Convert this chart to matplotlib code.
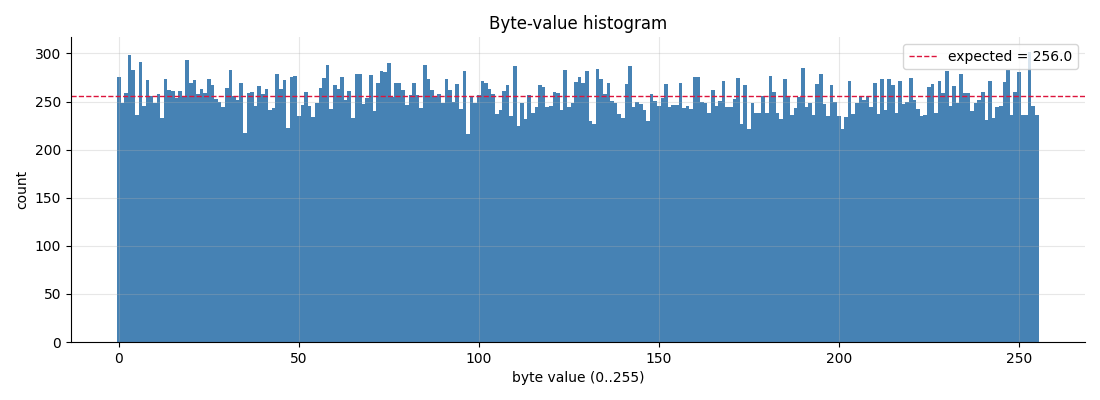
import numpy as np
import matplotlib
matplotlib.use("Agg")
import matplotlib.pyplot as plt

# counts per byte value
counts = [
    275, 249, 259, 298, 283, 236, 291, 245, 272, 256, 248, 258, 233, 273, 262, 261,
    254, 261, 256, 293, 269, 272, 258, 263, 259, 273, 267, 253, 250, 244, 264, 283,
    256, 252, 269, 217, 259, 260, 245, 266, 258, 263, 241, 243, 279, 263, 272, 222,
    275, 277, 235, 246, 260, 245, 234, 248, 264, 274, 288, 242, 267, 263, 275, 252,
    261, 233, 279, 279, 247, 254, 278, 240, 269, 282, 281, 290, 255, 269, 269, 262,
    246, 257, 269, 257, 243, 288, 273, 262, 255, 258, 249, 273, 262, 250, 268, 242,
    282, 216, 255, 249, 257, 271, 269, 263, 258, 237, 241, 261, 267, 235, 287, 225,
    248, 232, 257, 238, 244, 267, 265, 244, 245, 260, 259, 241, 283, 244, 249, 270,
    276, 269, 282, 230, 227, 284, 273, 258, 269, 251, 249, 237, 233, 268, 287, 244,
    250, 247, 241, 230, 258, 251, 245, 254, 268, 244, 246, 246, 269, 243, 245, 242,
    275, 275, 250, 248, 238, 262, 245, 251, 271, 244, 244, 253, 274, 227, 267, 221,
    248, 238, 238, 256, 238, 277, 260, 238, 232, 273, 255, 236, 243, 255, 285, 244,
    248, 236, 268, 279, 247, 235, 267, 250, 235, 221, 234, 271, 237, 248, 256, 252,
    256, 244, 269, 237, 273, 241, 273, 267, 238, 271, 247, 250, 274, 252, 242, 235,
    236, 265, 268, 238, 271, 259, 282, 245, 266, 248, 279, 259, 259, 240, 249, 252,
    260, 231, 271, 233, 244, 245, 270, 283, 236, 260, 281, 236, 236, 302, 245, 236,
]
byte_values = np.arange(256)
expected = 256.0

fig, ax = plt.subplots(figsize=(11, 4), dpi=100)
ax.bar(byte_values, counts, width=1.0, color="steelblue")
ax.axhline(expected, color="crimson", linestyle="--", linewidth=1,
           label=f"expected = {expected:.1f}")

ax.set_title("Byte-value histogram")
ax.set_xlabel("byte value (0..255)")
ax.set_ylabel("count")
ax.grid(alpha=0.3)
ax.spines["top"].set_visible(False)
ax.spines["right"].set_visible(False)
ax.legend(loc="upper right")

fig.subplots_adjust(left=0.0645, right=0.986, top=0.9075, bottom=0.145)
fig.savefig("out.png")
